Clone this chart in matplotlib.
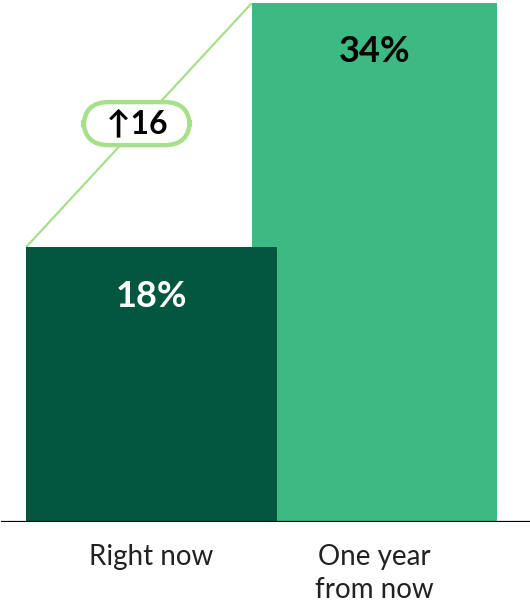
import matplotlib.pyplot as plt

plt.rcParams["font.family"] = ["Lato", "DejaVu Sans"]

categories = ["Right now", "One year\nfrom now"]
values = [18, 34]
value_labels = ["18%", "34%"]
change_label = "  \u219116  "

bar_colors = ["#04573f", "#3dba83"]
text_colors = ["white", "black"]
line_color = "#a6e08a"

positions = [0.0, 1.0]
widths = [1.125, 1.10]

fig = plt.figure(figsize=(5.30, 6.03), dpi=100)
ax = fig.add_axes([0.0, 0.1343, 1.0, 0.8607])
ax.set_xlim(-0.679, 1.697)
ax.set_ylim(0, max(values))

# later bar behind, current bar in front
for i in [1, 0]:
    ax.bar(positions[i], values[i], width=widths[i], color=bar_colors[i], zorder=2 + (1 - i))

lefts = [p - w / 2 for p, w in zip(positions, widths)]
ax.plot([lefts[0], lefts[1]], [values[0], values[1]], color=line_color, linewidth=1.6, zorder=1, solid_capstyle="butt")

mid_x = (lefts[0] + lefts[1]) / 2
mid_y = (values[0] + values[1]) / 2
ax.text(mid_x - 0.01, mid_y + 0.1, change_label, ha="center", va="center", fontsize=23, fontweight="bold", color="black", zorder=5,
        bbox=dict(boxstyle="round,pad=0.22,rounding_size=0.78", facecolor="white", edgecolor=line_color, linewidth=3.2))

for i in range(2):
    top_offset = 3.2
    ax.text(positions[i], values[i] - top_offset, value_labels[i], ha="center", va="center", fontsize=26,
            fontweight="bold", color=text_colors[i], zorder=6)

ax.axhline(0, color="black", linewidth=1.6, zorder=7, xmin=0.004, xmax=1.0)

ax.set_xticks(positions)
ax.set_xticklabels(categories, fontsize=20, color="#222222", linespacing=1.3, va="top")
ax.tick_params(axis="x", length=0, pad=16)
ax.set_yticks([])
for side in ["top", "right", "left", "bottom"]:
    ax.spines[side].set_visible(False)

fig.savefig("out.png", dpi=100)
